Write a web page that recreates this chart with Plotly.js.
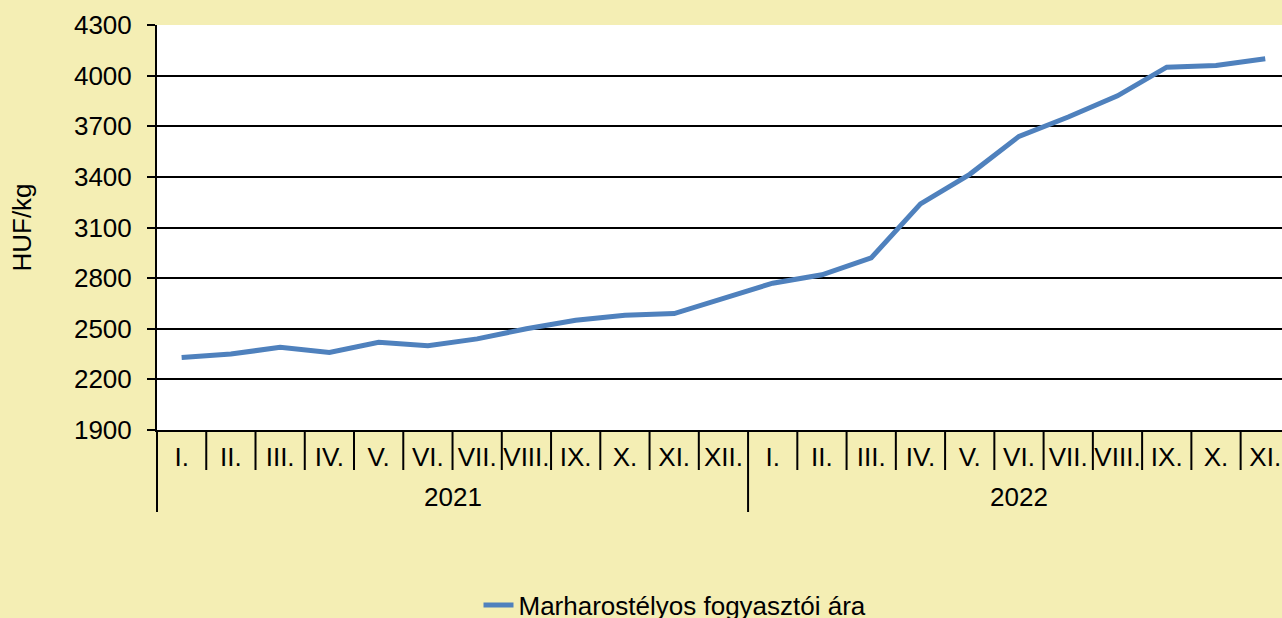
<!DOCTYPE html>
<html>
<head>
<meta charset="utf-8">
<script src="https://cdn.plot.ly/plotly-3.0.1.min.js"></script>
<style>html,body{margin:0;padding:0;background:#F4EEB4;}</style>
</head>
<body>
<div id="chart" style="width:1282px;height:618px;"></div>
<script>
const years = ["2021","2021","2021","2021","2021","2021","2021","2021","2021","2021","2021","2021",
               "2022","2022","2022","2022","2022","2022","2022","2022","2022","2022","2022"];
const months = ["I.","II.","III.","IV.","V.","VI.","VII.","VIII.","IX.","X.","XI.","XII.",
                "I.","II.","III.","IV.","V.","VI.","VII.","VIII.","IX.","X.","XI."];
const prices = [2330,2350,2390,2360,2420,2400,2440,2500,2550,2580,2590,2680,
                2770,2820,2920,3240,3415,3640,3755,3880,4050,4060,4100];
const seriesName = "Marharostélyos fogyasztói ára";
const yTicks = [1900,2200,2500,2800,3100,3400,3700,4000,4300];

const plotTop = 25, plotBottom = 430;
const plotH = plotBottom - plotTop;
const pY = px => (plotBottom - px) / plotH;

const idx = months.map((_, i) => i);

const shapes = [];
for (let i = 1; i < months.length; i++) {
  const isYear = years[i] !== years[i-1];
  shapes.push({type:'line', xref:'x', yref:'paper', x0:i-0.5, x1:i-0.5,
    y0:0, y1:pY(isYear ? 512 : 470), line:{color:'#000', width:2}});
}
shapes.push({type:'line', xref:'paper', yref:'paper', x0:0, x1:0,
  y0:0, y1:pY(512), line:{color:'#000', width:2}});

// year group labels, centred on each year's months
const yearNames = [...new Set(years)];
const annotations = yearNames.map(yr => {
  const ids = idx.filter(i => years[i] === yr);
  const first = ids[0] - 0.5, last = ids[ids.length-1] + 0.5;
  return {x:(first+last)/2, xref:'x', y:pY(497), yref:'paper', text:yr,
    showarrow:false, xanchor:'center', yanchor:'middle', font:{size:26, color:'#000'}};
});

const trace = {
  x: idx,
  y: prices,
  type: 'scatter',
  mode: 'lines',
  name: seriesName,
  line: {color:'#4F81BD', width:5},
  showlegend: true
};

const layout = {
  width:1282, height:618,
  paper_bgcolor:'#F4EEB4',
  plot_bgcolor:'#FFFFFF',
  margin:{l:157, r:0, t:plotTop, b:618-plotBottom},
  font:{family:'Liberation Sans, Arial, sans-serif', size:26, color:'#000'},
  showlegend:true,
  legend:{orientation:'h', xref:'container', yref:'container',
    x:675/1282, xanchor:'center', y:(618-605)/618, yanchor:'middle',
    bgcolor:'rgba(0,0,0,0)', font:{size:26}},
  xaxis:{
    range:[-0.5, 22.34],
    tickvals:idx,
    ticktext:months,
    showgrid:false, zeroline:false,
    showline:true, linecolor:'#000', linewidth:2,
    ticks:'', ticklabelstandoff:3,
    tickfont:{size:26}
  },
  yaxis:{
    range:[1900,4300],
    tickvals:yTicks,
    ticktext:yTicks.map(String),
    showgrid:true, gridcolor:'#000', gridwidth:2,
    showline:true, linecolor:'#000', linewidth:2,
    ticks:'outside', ticklen:8, tickcolor:'#000', tickwidth:2,
    ticklabelstandoff:10,
    zeroline:false,
    tickfont:{size:26},
    title:{text:'HUF/kg', font:{size:26}, standoff:35}
  },
  annotations:annotations,
  shapes:shapes
};

Plotly.newPlot('chart',[trace],layout,{displayModeBar:false, staticPlot:true});
</script>
</body>
</html>
